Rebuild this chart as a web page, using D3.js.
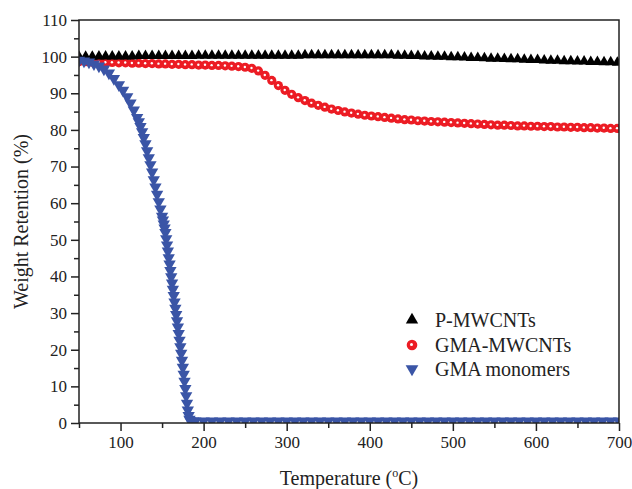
<!DOCTYPE html>
<html>
<head>
<meta charset="utf-8">
<script src="https://cdn.jsdelivr.net/npm/d3@7"></script>
<style>
    body { margin: 0; background: #fff; }
    text { font-family: "Liberation Serif", "Times New Roman", serif; fill: #222; }
</style>
</head>
<body>
<div id="chart-area"></div>
<script>

// temperatures (°C) shared by the two MWCNT samples
const temps = [50, 58, 66, 74, 82, 90, 98, 106, 114, 122, 130, 138, 146, 154, 162, 170, 178, 186, 194, 202,
    210, 218, 226, 234, 242, 250, 258, 266, 274, 282, 290, 298, 306, 314, 322, 330, 338, 346, 354, 362,
    370, 378, 386, 394, 402, 410, 418, 426, 434, 442, 450, 458, 466, 474, 482, 490, 498, 506, 514, 522,
    530, 538, 546, 554, 562, 570, 578, 586, 594, 602, 610, 618, 626, 634, 642, 650, 658, 666, 674, 682,
    690, 698];

const pMwcnts = [100.0, 100.0, 100.0, 100.1, 100.1, 100.1, 100.1, 100.1, 100.1, 100.2, 100.2, 100.2, 100.2, 100.2,
    100.2, 100.2, 100.2, 100.2, 100.3, 100.3, 100.3, 100.3, 100.3, 100.3, 100.3, 100.3, 100.3, 100.3, 100.3, 100.3,
    100.3, 100.3, 100.3, 100.3, 100.4, 100.4, 100.4, 100.4, 100.4, 100.4, 100.4, 100.4, 100.4, 100.4, 100.4, 100.4,
    100.4, 100.4, 100.3, 100.3, 100.2, 100.2, 100.1, 100.1, 100.0, 100.0, 99.9, 99.9, 99.8, 99.7, 99.7, 99.6,
    99.5, 99.5, 99.4, 99.3, 99.3, 99.2, 99.1, 99.1, 99.0, 98.9, 98.9, 98.8, 98.8, 98.7, 98.7, 98.6, 98.6, 98.5,
    98.5, 98.4];

const gmaMwcnts = [98.6, 98.6, 98.5, 98.5, 98.4, 98.4, 98.3, 98.3, 98.2, 98.2, 98.1, 98.1, 98.0, 98.0, 97.9, 97.9,
    97.8, 97.8, 97.7, 97.7, 97.6, 97.6, 97.5, 97.4, 97.3, 97.1, 96.8, 96.1, 94.9, 93.5, 92.1, 90.8, 89.7, 88.8,
    88.0, 87.3, 86.7, 86.2, 85.7, 85.3, 84.9, 84.6, 84.3, 84.0, 83.8, 83.6, 83.4, 83.2, 83.0, 82.8, 82.7, 82.5,
    82.4, 82.3, 82.2, 82.1, 82.0, 81.9, 81.8, 81.7, 81.6, 81.5, 81.4, 81.3, 81.3, 81.2, 81.1, 81.1, 81.0, 81.0,
    80.9, 80.9, 80.8, 80.8, 80.7, 80.7, 80.6, 80.6, 80.5, 80.5, 80.4, 80.4];

// the monomer was sampled more densely where it drops
const monomerTemps = [50, 56, 62, 68, 74, 80, 86, 92, 98, 103, 108, 112, 116,
    120, 122, 124, 126, 128, 130, 132, 134, 136, 138, 140, 142, 144, 146, 148,
    150, 151, 152, 153, 154, 155, 156, 157, 158, 159, 160, 161, 162, 163, 164, 165, 166, 167,
    168, 169, 170, 171, 172, 173, 174, 175, 176, 177, 178, 179, 180, 181, 182, 183, 184, 187,
    190, 200, 210, 220, 230, 240, 250, 260, 270, 280, 290, 300, 310, 320, 330, 340, 350, 360,
    370, 380, 390, 400, 410, 420, 430, 440, 450, 460, 470, 480, 490, 500, 510, 520, 530, 540,
    550, 560, 570, 580, 590, 600, 610, 620, 630, 640, 650, 660, 670, 680, 690, 700];

const gmaMonomers = [99.0, 98.8, 98.5, 98.0, 97.4, 96.6, 95.5, 94.0, 92.3, 90.8, 89.0, 87.3, 85.4,
    83.4, 82.2, 80.9, 79.5, 77.9, 76.2, 74.3, 72.4, 70.5, 68.5, 66.4, 64.4, 62.4, 60.4, 58.4,
    56.4, 55.4, 54.3, 53.2, 52.0, 50.3, 48.6, 46.9, 45.1, 43.4, 41.6, 39.9, 38.2, 36.5, 34.8, 33.0, 31.3, 29.6,
    27.9, 26.2, 24.4, 22.6, 20.8, 19.0, 17.1, 15.2, 13.3, 11.4, 9.4, 7.4, 5.4, 3.5, 2.0, 1.0, 0.6, 0.5,
    0.5, 0.5, 0.5, 0.5, 0.5, 0.5, 0.5, 0.5, 0.5, 0.5, 0.5, 0.5, 0.5, 0.5, 0.5, 0.5, 0.5, 0.5,
    0.5, 0.5, 0.5, 0.5, 0.5, 0.5, 0.5, 0.5, 0.5, 0.5, 0.5, 0.5, 0.5, 0.5, 0.5, 0.5, 0.5, 0.5,
    0.5, 0.5, 0.5, 0.5, 0.5, 0.5, 0.5, 0.5, 0.5, 0.5, 0.5, 0.5, 0.5, 0.5, 0.5, 0.5];

const seriesNames = ["P-MWCNTs", "GMA-MWCNTs", "GMA monomers"];
const xTicks = [100, 200, 300, 400, 500, 600, 700];
const xMinorTicks = [50, 150, 250, 350, 450, 550, 650];
const yTicks = [0, 10, 20, 30, 40, 50, 60, 70, 80, 90, 100, 110];
const yMinorTicks = [5, 15, 25, 35, 45, 55, 65, 75, 85, 95, 105];


let margin = {top: 20, right: 13, bottom: 66, left: 79};
let width = 632 - margin.left - margin.right;
let height = 489 - margin.top - margin.bottom;

let svg = d3.select("#chart-area").append("svg")
    .attr("width", 632)
    .attr("height", 489)
    .append("g")
    .attr("transform", "translate(" + margin.left + "," + margin.top + ")");

// Scales
let x = d3.scaleLinear().domain([50, 700]).range([0, width]);
let y = d3.scaleLinear().domain([0, 110]).range([height, 0]);

svg.append("clipPath").attr("id", "plot-clip")
    .append("rect")
    .attr("width", width)
    .attr("height", height);

let plot = svg.append("g").attr("clip-path", "url(#plot-clip)");

// markers
let upTri = d3.symbol().type(d3.symbolTriangle).size(52);
let downTri = d3.symbol().type(d3.symbolTriangle).size(66);

let redData = temps.map((t, i) => ({t: t, v: gmaMwcnts[i]}));
let blackData = temps.map((t, i) => ({t: t, v: pMwcnts[i]}));
let blueData = monomerTemps.map((t, i) => ({t: t, v: gmaMonomers[i]}));

plot.selectAll(".red-dot")
    .data(redData)
    .enter()
    .append("circle")
    .attr("class", "red-dot")
    .attr("cx", d => x(d.t))
    .attr("cy", d => y(d.v))
    .attr("r", 4.6)
    .attr("fill", "#ec1c24");

plot.selectAll(".red-glint")
    .data(redData)
    .enter()
    .append("circle")
    .attr("class", "red-glint")
    .attr("cx", d => x(d.t) - 0.3)
    .attr("cy", d => y(d.v) - 0.3)
    .attr("r", 1.2)
    .attr("fill", "#fff");

plot.selectAll(".black-tri")
    .data(blackData)
    .enter()
    .append("path")
    .attr("class", "black-tri")
    .attr("d", upTri)
    .attr("transform", d => "translate(" + x(d.t) + "," + y(d.v) + ")")
    .attr("fill", "#000");

plot.selectAll(".blue-tri")
    .data(blueData)
    .enter()
    .append("path")
    .attr("class", "blue-tri")
    .attr("d", downTri)
    .attr("transform", d => "translate(" + x(d.t) + "," + y(d.v) + ") rotate(180)")
    .attr("fill", "#3a55a6");

// Frame
svg.append("rect")
    .attr("width", width)
    .attr("height", height)
    .attr("fill", "none")
    .attr("stroke", "#222")
    .attr("stroke-width", 1.5);

// Axes
let xAxis = d3.axisBottom(x).tickValues(xTicks).tickSize(8).tickPadding(5).tickFormat(d3.format("d"));
let xMinor = d3.axisBottom(x).tickValues(xMinorTicks).tickSize(5).tickFormat("");
let yAxis = d3.axisLeft(y).tickValues(yTicks).tickSize(8).tickPadding(4).tickFormat(d3.format("d"));
let yMinor = d3.axisLeft(y).tickValues(yMinorTicks).tickSize(5).tickFormat("");

[svg.append("g").attr("transform", "translate(0," + height + ")").call(xAxis),
 svg.append("g").attr("transform", "translate(0," + height + ")").call(xMinor),
 svg.append("g").call(yAxis),
 svg.append("g").call(yMinor)].forEach(g => {
    g.attr("font-family", null);
    g.select(".domain").remove();
    g.selectAll("line").attr("stroke", "#222").attr("stroke-width", 1.5);
    g.selectAll("text").attr("font-size", 17).attr("fill", "#222")
        .style("font-family", "'Liberation Serif', serif");
});

// Axis titles
let xTitle = svg.append("text")
    .attr("x", width / 2)
    .attr("y", height + 62)
    .attr("text-anchor", "middle")
    .attr("font-size", 20);
xTitle.append("tspan").text("Temperature (");
xTitle.append("tspan").attr("font-size", 12).attr("dy", -8).text("o");
xTitle.append("tspan").attr("dy", 8).text("C)");

svg.append("text")
    .attr("transform", "translate(" + (-51) + "," + (height / 2) + ") rotate(-90)")
    .attr("text-anchor", "middle")
    .attr("font-size", 20)
    .text("Weight Retention (%)");

// Legend
let legend = svg.append("g").attr("transform", "translate(333,300)");
let legendY = [0, 25, 49];

legend.append("path").attr("d", d3.symbol().type(d3.symbolTriangle).size(66))
    .attr("transform", "translate(0," + legendY[0] + ")").attr("fill", "#000");
legend.append("circle").attr("cx", 0).attr("cy", legendY[1]).attr("r", 5.3).attr("fill", "#ec1c24");
legend.append("circle").attr("cx", -0.5).attr("cy", legendY[1] - 0.5).attr("r", 1.5).attr("fill", "#fff");
legend.append("path").attr("d", d3.symbol().type(d3.symbolTriangle).size(70))
    .attr("transform", "translate(0," + legendY[2] + ") rotate(180)").attr("fill", "#3a55a6");

legend.selectAll(".legend-label")
    .data(seriesNames)
    .enter()
    .append("text")
    .attr("class", "legend-label")
    .attr("x", 23)
    .attr("y", (d, i) => legendY[i] + 7)
    .attr("font-size", 20)
    .text(d => d);

</script>
</body>
</html>
